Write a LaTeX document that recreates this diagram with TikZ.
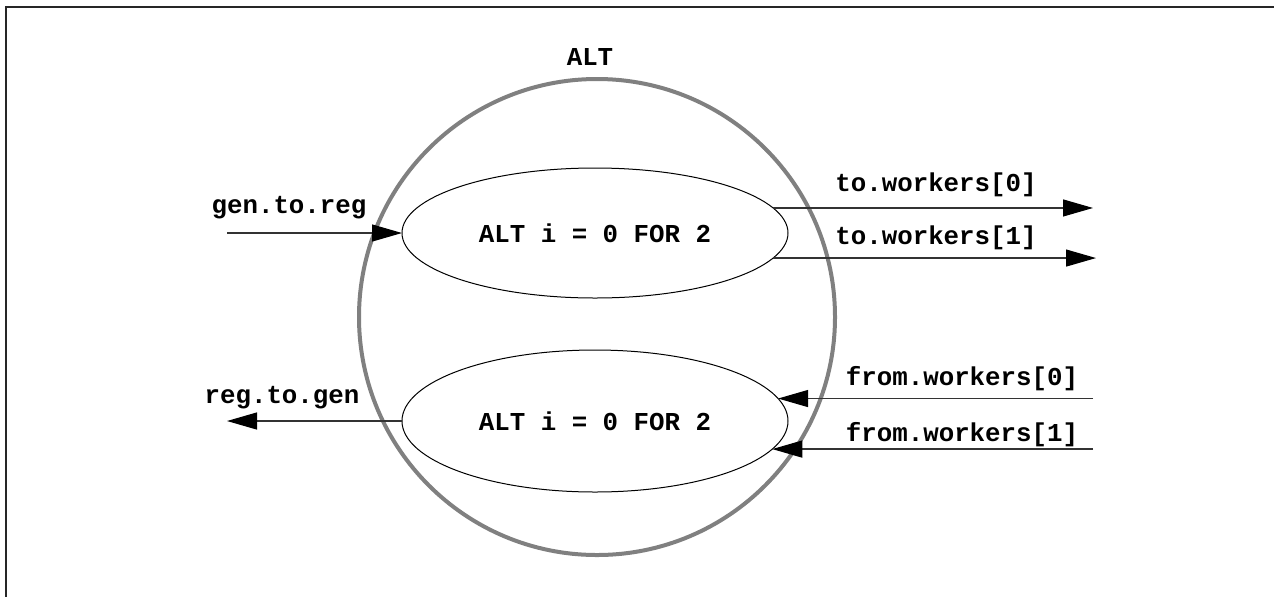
\documentclass[tikz,border=0pt]{standalone}
\usepackage{fontspec}
\setmonofont{Liberation Mono}
\usetikzlibrary{arrows.meta,shapes.geometric}
\definecolor{ringgray}{RGB}{128,128,128}
\begin{document}
\begin{tikzpicture}[x=0.5pt,y=-0.5pt,
  lbl/.style={font=\ttfamily\bfseries\fontsize{12.9}{15}\selectfont, inner sep=0pt},
  ell/.style={draw, ellipse, line width=0.5pt, minimum width=193pt, outer sep=0pt, inner sep=0pt,
    font=\ttfamily\bfseries\fontsize{12.9}{15}\selectfont},
  arr/.style={-{Triangle[length=15pt,width=8.5pt,black]}, line width=0.6pt, draw=black!80}]
\useasboundingbox (0,0) rectangle (1274,596);
\clip (0,0) rectangle (1274,596);
\draw[line width=1pt, draw=black!85] (6,620) -- (6,7) -- (1290,7);
% outer ring
\node[draw=ringgray, circle, line width=2pt, minimum size=238pt, inner sep=0pt] (ring) at (597,317) {};
\node[lbl] (altlbl) at (590,57) {ALT};
% ellipses
\node[ell, minimum height=65pt] (up) at (595,233) {ALT i = 0 FOR 2};
\node[ell, minimum height=71pt] (lo) at (595,421) {ALT i = 0 FOR 2};
% free ends
\coordinate (gin) at (227,233);
\coordinate (rout) at (227,421);
\coordinate (tend0) at (1093,0);
\coordinate (tend1) at (1096,0);
\coordinate (fst) at (1093,0);
% connectors
\draw[arr] (gin) -- (up.west);
\draw[arr] (lo.west) -- (rout);
\draw[arr] (up.8.7) -- (up.8.7 -| tend0);
\draw[arr] (up.-8.4) -- (up.-8.4 -| tend1);
\draw[arr] (lo.7.5 -| fst) -- (lo.7.5);
\draw[arr] (lo.-9 -| fst) -- (lo.-9);
% labels
\node[lbl] (lgen) at (289,208) {gen.to.reg};
\node[lbl] (lreg) at (282,398) {reg.to.gen};
\node[lbl] (lt0) at (936,185) {to.workers[0]};
\node[lbl] (lt1) at (936,238) {to.workers[1]};
\node[lbl] (lf0) at (962,379) {from.workers[0]};
\node[lbl] (lf1) at (962,435) {from.workers[1]};
\end{tikzpicture}
\end{document}
